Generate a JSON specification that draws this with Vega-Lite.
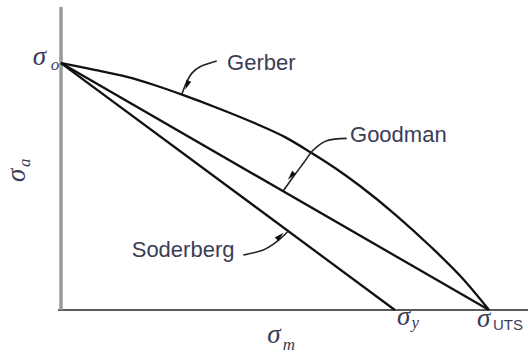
{
  "$schema": "https://vega.github.io/schema/vega-lite/v6.json",
  "width": 467,
  "height": 303,
  "autosize": {"type": "none"},
  "padding": {"left": 61, "top": 7, "right": 0, "bottom": 46},
  "background": "white",
  "config": {"view": {"stroke": null}},
  "datasets": {
    "curves": [
      {"curve": "Gerber", "x": 0, "y": 100},
      {"curve": "Gerber", "x": 6.78, "y": 97.6},
      {"curve": "Gerber", "x": 15.42, "y": 94.4},
      {"curve": "Gerber", "x": 21.96, "y": 91.0},
      {"curve": "Gerber", "x": 28.27, "y": 87.2},
      {"curve": "Gerber", "x": 37.15, "y": 81.4},
      {"curve": "Gerber", "x": 45.33, "y": 75.6},
      {"curve": "Gerber", "x": 52.34, "y": 70.0},
      {"curve": "Gerber", "x": 58.18, "y": 64.0},
      {"curve": "Gerber", "x": 64.02, "y": 57.5},
      {"curve": "Gerber", "x": 69.86, "y": 50.2},
      {"curve": "Gerber", "x": 78.5, "y": 38.06},
      {"curve": "Gerber", "x": 86.21, "y": 25.91},
      {"curve": "Gerber", "x": 93.93, "y": 12.55},
      {"curve": "Gerber", "x": 100, "y": 0},
      {"curve": "Goodman", "x": 0, "y": 100},
      {"curve": "Goodman", "x": 100, "y": 0},
      {"curve": "Soderberg", "x": 0, "y": 100},
      {"curve": "Soderberg", "x": 78, "y": 0}
    ],
    "leaders": [
      {"leader": "Gerber", "step": 1, "x": 36.38, "y": 100.81},
      {"leader": "Gerber", "step": 2, "x": 32.48, "y": 98.5},
      {"leader": "Gerber", "step": 3, "x": 30.54, "y": 95.83},
      {"leader": "Gerber", "step": 4, "x": 29.37, "y": 92.43},
      {"leader": "Gerber", "step": 5, "x": 28.2, "y": 87.2},
      {"leader": "Goodman", "step": 1, "x": 66.75, "y": 69.51},
      {"leader": "Goodman", "step": 2, "x": 62.08, "y": 68.54},
      {"leader": "Goodman", "step": 3, "x": 58.95, "y": 64.78},
      {"leader": "Goodman", "step": 4, "x": 56.61, "y": 59.39},
      {"leader": "Goodman", "step": 5, "x": 54.28, "y": 53.97},
      {"leader": "Goodman", "step": 6, "x": 51.94, "y": 48.3},
      {"leader": "Soderberg", "step": 1, "x": 42.59, "y": 22.27},
      {"leader": "Soderberg", "step": 2, "x": 47.27, "y": 24.29},
      {"leader": "Soderberg", "step": 3, "x": 50.4, "y": 27.65},
      {"leader": "Soderberg", "step": 4, "x": 53.11, "y": 32.0}
    ],
    "heads": [
      {"leader": "Gerber", "x": 29.44, "y": 91.09, "heading": 202},
      {"leader": "Goodman", "x": 53.74, "y": 54.25, "heading": 221},
      {"leader": "Soderberg", "x": 51.17, "y": 29.96, "heading": 45}
    ],
    "names": [
      {"name": "Gerber", "x": 38.79, "y": 97.17},
      {"name": "Goodman", "x": 67.52, "y": 68.02},
      {"name": "Soderberg", "x": 16.52, "y": 21.46}
    ],
    "sigmas": [
      {"sym": "σ", "x": -6.6, "y": 99.19},
      {"sym": "σ", "x": 78.5, "y": -6.07},
      {"sym": "σ", "x": 97.2, "y": -6.88},
      {"sym": "σ", "x": 48.2, "y": -13.36}
    ],
    "subs": [
      {"sub": "o", "x": -2.4, "y": 97.17},
      {"sub": "y", "x": 81.9, "y": -7.29},
      {"sub": "m", "x": 51.8, "y": -16.19}
    ],
    "uts": [{"sub": "UTS", "x": 100.93, "y": -8.1}],
    "vertical": [
      {"sym": "σ", "x": -8.41, "y": 51.82, "sub": "a", "sx": -7.24, "sy": 57.9}
    ],
    "axes": [
      {"axis": "left", "x": 0, "x2": 0, "y": 0, "y2": 122.7},
      {"axis": "bottom", "x": -0.7, "x2": 109.1, "y": 0, "y2": 0}
    ]
  },
  "encoding": {
    "x": {"type": "quantitative", "scale": {"domain": [0, 109.1], "nice": false, "zero": false}, "axis": null},
    "y": {"type": "quantitative", "scale": {"domain": [0, 122.7], "nice": false, "zero": false}, "axis": null}
  },
  "layer": [
    {
      "data": {"name": "axes"},
      "transform": [{"filter": "datum.axis === 'bottom'"}],
      "mark": {"type": "rule", "color": "#5a5a5a", "strokeWidth": 2},
      "encoding": {"x": {"field": "x", "type": "quantitative"}, "x2": {"field": "x2"}, "y": {"field": "y", "type": "quantitative"}}
    },
    {
      "data": {"name": "axes"},
      "transform": [{"filter": "datum.axis === 'left'"}],
      "mark": {"type": "rule", "color": "#9a9a9a", "strokeWidth": 3.5},
      "encoding": {"x": {"field": "x", "type": "quantitative"}, "y": {"field": "y", "type": "quantitative"}, "y2": {"field": "y2"}}
    },
    {
      "data": {"name": "curves"},
      "mark": {"type": "line", "color": "#111111", "strokeWidth": 2.3, "interpolate": "monotone"},
      "encoding": {
        "x": {"field": "x", "type": "quantitative"},
        "y": {"field": "y", "type": "quantitative"},
        "detail": {"field": "curve"}
      }
    },
    {
      "data": {"name": "leaders"},
      "mark": {"type": "line", "color": "#222222", "strokeWidth": 1.6, "interpolate": "cardinal"},
      "encoding": {
        "x": {"field": "x", "type": "quantitative"},
        "y": {"field": "y", "type": "quantitative"},
        "detail": {"field": "leader"},
        "order": {"field": "step", "type": "quantitative"}
      }
    },
    {
      "data": {"name": "heads"},
      "mark": {"type": "point", "shape": "M0,-1L0.55,1L-0.55,1Z", "filled": true, "color": "#111111", "size": 90, "opacity": 1},
      "encoding": {
        "x": {"field": "x", "type": "quantitative"},
        "y": {"field": "y", "type": "quantitative"},
        "angle": {"field": "heading", "type": "quantitative", "scale": null}
      }
    },
    {
      "data": {"name": "names"},
      "mark": {"type": "text", "align": "left", "baseline": "alphabetic", "font": "Liberation Sans", "fontSize": 22, "color": "#3b3d55"},
      "encoding": {
        "x": {"field": "x", "type": "quantitative"},
        "y": {"field": "y", "type": "quantitative"},
        "text": {"field": "name"}
      }
    },
    {
      "data": {"name": "sigmas"},
      "mark": {"type": "text", "align": "left", "baseline": "alphabetic", "font": "Liberation Serif", "fontStyle": "italic", "fontSize": 27, "color": "#3b3d55"},
      "encoding": {
        "x": {"field": "x", "type": "quantitative"},
        "y": {"field": "y", "type": "quantitative"},
        "text": {"field": "sym"}
      }
    },
    {
      "data": {"name": "subs"},
      "mark": {"type": "text", "align": "left", "baseline": "alphabetic", "font": "Liberation Serif", "fontStyle": "italic", "fontSize": 17, "color": "#3b3d55"},
      "encoding": {
        "x": {"field": "x", "type": "quantitative"},
        "y": {"field": "y", "type": "quantitative"},
        "text": {"field": "sub"}
      }
    },
    {
      "data": {"name": "uts"},
      "mark": {"type": "text", "align": "left", "baseline": "alphabetic", "font": "Liberation Sans", "fontSize": 15, "color": "#3b3d55"},
      "encoding": {
        "x": {"field": "x", "type": "quantitative"},
        "y": {"field": "y", "type": "quantitative"},
        "text": {"field": "sub"}
      }
    },
    {
      "data": {"name": "vertical"},
      "mark": {"type": "text", "align": "left", "baseline": "alphabetic", "angle": 270, "font": "Liberation Serif", "fontStyle": "italic", "fontSize": 27, "color": "#3b3d55"},
      "encoding": {
        "x": {"field": "x", "type": "quantitative"},
        "y": {"field": "y", "type": "quantitative"},
        "text": {"field": "sym"}
      }
    },
    {
      "data": {"name": "vertical"},
      "mark": {"type": "text", "align": "left", "baseline": "alphabetic", "angle": 270, "font": "Liberation Serif", "fontStyle": "italic", "fontSize": 17, "color": "#3b3d55"},
      "encoding": {
        "x": {"field": "sx", "type": "quantitative"},
        "y": {"field": "sy", "type": "quantitative"},
        "text": {"field": "sub"}
      }
    }
  ]
}
